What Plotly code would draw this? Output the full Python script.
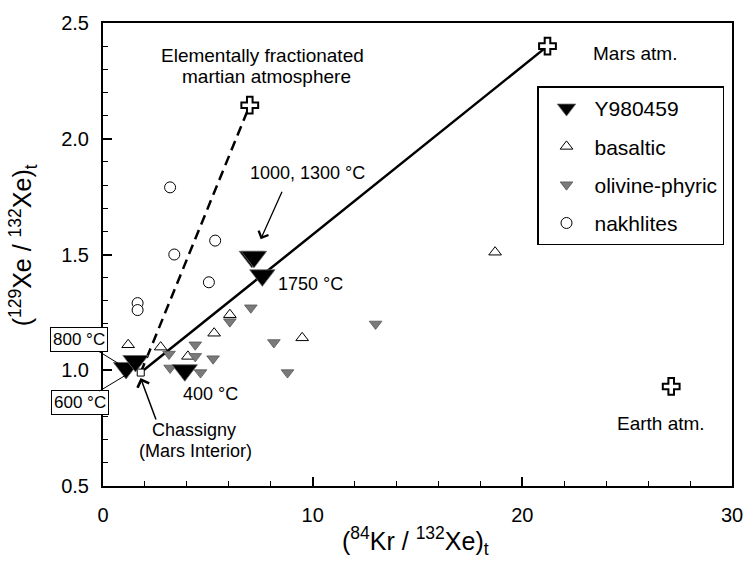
import plotly.graph_objects as go

# ---------------- data ----------------
# Y980459 stepwise heating (84Kr/132Xe, 129Xe/132Xe)
y98_temp = ["400 °C", "600 °C", "800 °C", "1000 °C", "1300 °C", "1750 °C"]
y98_kr = [3.9, 1.1, 1.55, 7.1, 7.2, 7.6]
y98_xe = [1.00, 1.01, 1.04, 1.49, 1.49, 1.41]

# basaltic shergottites
bas_kr = [1.2, 2.75, 4.05, 5.3, 6.05, 9.5, 18.7]
bas_xe = [1.11, 1.10, 1.06, 1.16, 1.24, 1.14, 1.51]

# olivine-phyric shergottites
oli_kr = [3.15, 3.2, 4.4, 4.4, 4.65, 5.25, 6.05, 7.05, 8.15, 8.8, 13.0]
oli_xe = [1.07, 1.01, 1.11, 1.06, 0.99, 1.05, 1.21, 1.27, 1.12, 0.99, 1.20]

# nakhlites
nak_kr = [3.2, 5.35, 3.4, 5.05, 1.65, 1.65]
nak_xe = [1.79, 1.56, 1.50, 1.38, 1.29, 1.26]

# end-members
end_names = ["Mars atm.", "Elementally fractionated martian atmosphere", "Earth atm."]
end_kr = [21.2, 7.0, 27.1]
end_xe = [2.40, 2.145, 0.93]

# Chassigny (Mars interior)
chass_kr = [1.8]
chass_xe = [0.99]

FONT = "Liberation Sans, Arial, sans-serif"

fig = go.Figure()

# mixing lines
fig.add_trace(go.Scatter(x=[chass_kr[0], end_kr[0]], y=[chass_xe[0], end_xe[0]], mode="lines",
                         line=dict(color="black", width=2.5), showlegend=False, hoverinfo="skip"))
fig.add_trace(go.Scatter(x=[chass_kr[0], end_kr[1]], y=[chass_xe[0], end_xe[1]], mode="lines",
                         line=dict(color="black", width=2.5, dash="10px,6px"), showlegend=False, hoverinfo="skip"))

# Chassigny marker
fig.add_trace(go.Scatter(x=chass_kr, y=chass_xe, mode="markers", showlegend=False,
                         marker=dict(symbol="square", size=7, color="white", line=dict(color="black", width=1))))

# end-member crosses
fig.add_trace(go.Scatter(x=end_kr, y=end_xe, mode="markers", showlegend=False, text=end_names,
                         marker=dict(symbol="cross", size=14, color="white", line=dict(color="black", width=2))))

fig.add_trace(go.Scatter(x=nak_kr, y=nak_xe, mode="markers", name="nakhlites", legendrank=4,
                         legendgroup="d",
                         marker=dict(symbol="circle", size=11, color="white", line=dict(color="black", width=1))))
fig.add_trace(go.Scatter(x=bas_kr, y=bas_xe, mode="markers", name="basaltic", legendrank=2,
                         legendgroup="b",
                         marker=dict(symbol="triangle-up", size=11, color="white", line=dict(color="black", width=1))))
fig.add_trace(go.Scatter(x=oli_kr, y=oli_xe, mode="markers", name="olivine-phyric", legendrank=3,
                         legendgroup="c",
                         marker=dict(symbol="triangle-down", size=11, color="#7a7a7a", line=dict(color="#555555", width=0.8))))
fig.add_trace(go.Scatter(x=y98_kr, y=y98_xe, mode="markers", name="Y980459", legendrank=1, text=y98_temp,
                         legendgroup="a",
                         marker=dict(symbol="triangle-down", size=22, color="black", line=dict(color="#666666", width=0.8))))

def txt(x, y, s, xanchor="left", size=19):
    return dict(x=x, y=y, xref="x", yref="y", text=s, showarrow=False, xanchor=xanchor,
                yanchor="middle", font=dict(family=FONT, size=size, color="black"))

annots = [
    txt(7.62, 2.359, "Elementally fractionated", "center"),
    txt(7.78, 2.269, "martian atmosphere", "center"),
    txt(23.28, 2.367, "Mars atm."),
    txt(24.4, 0.77, "Earth atm."),
    txt(6.91, 1.853, "1000, 1300 °C", size=18),
    txt(8.23, 1.374, "1750 °C", size=18),
    txt(3.71, 0.898, "400 °C", size=18),
    txt(4.33, 0.740, "Chassigny", "center", size=18),
    txt(4.42, 0.650, "(Mars Interior)", "center", size=18),
    # arrows
    dict(x=7.52, y=1.566, xref="x", yref="y", text="", showarrow=True, ax=22, ay=-49,
         arrowhead=4, arrowsize=1.6, arrowwidth=1.3, arrowcolor="black"),
    dict(x=1.79, y=0.967, xref="x", yref="y", text="", showarrow=True, ax=16, ay=43,
         arrowhead=4, arrowsize=1.6, arrowwidth=1.5, arrowcolor="black"),
    # boxed temperature labels
    dict(x=1.35, y=0.995, xref="x", yref="y", text="800 °C", showarrow=True, ax=-52, ay=-32,
         arrowhead=0, arrowwidth=1, arrowcolor="black", bgcolor="white", bordercolor="black",
         borderwidth=1, borderpad=2, font=dict(family=FONT, size=17, color="black")),
    dict(x=1.18, y=0.984, xref="x", yref="y", text="600 °C", showarrow=True, ax=-48, ay=29,
         arrowhead=0, arrowwidth=1, arrowcolor="black", bgcolor="white", bordercolor="black",
         borderwidth=1, borderpad=2, font=dict(family=FONT, size=17, color="black")),
    # axis titles
    dict(x=0.497, y=-0.118, xref="paper", yref="paper", showarrow=False,
         text="(<sup>84</sup>Kr / <sup>132</sup>Xe)<sub>t</sub>", xanchor="center", yanchor="middle",
         font=dict(family=FONT, size=25, color="black")),
    dict(x=-0.127, y=0.52, xref="paper", yref="paper", showarrow=False, textangle=-90,
         text="(<sup>129</sup>Xe / <sup>132</sup>Xe)<sub>t</sub>", xanchor="center", yanchor="middle",
         font=dict(family=FONT, size=25, color="black")),
]

axis_common = dict(showgrid=False, zeroline=False, showline=True, linecolor="black", linewidth=2,
                   mirror=True, ticks="inside", tickcolor="black", tickwidth=1.5, ticklen=9,
                   tickfont=dict(family=FONT, size=20, color="black"))

fig.update_layout(
    width=755, height=561,
    margin=dict(l=103, r=14, t=19, b=75),
    paper_bgcolor="white", plot_bgcolor="white",
    font=dict(family=FONT, color="black"),
    xaxis=dict(range=[0, 30], dtick=10, tick0=0, ticklabelstandoff=10,
               minor=dict(dtick=2, ticks="inside", ticklen=5, tickcolor="black", tickwidth=1.2),
               **axis_common),
    yaxis=dict(range=[0.5, 2.5], dtick=0.5, tick0=0.5, tickformat=".1f", ticklabelstandoff=8,
               minor=dict(dtick=0.1, ticks="inside", ticklen=5, tickcolor="black", tickwidth=1.2),
               **axis_common),
    legend=dict(x=0.69, y=0.863, xanchor="left", yanchor="top", bgcolor="white",
                bordercolor="black", borderwidth=1.5, itemwidth=46, tracegroupgap=8,
                font=dict(family=FONT, size=21, color="black")),
    annotations=annots,
    showlegend=True,
)

fig.write_html("out.html")
